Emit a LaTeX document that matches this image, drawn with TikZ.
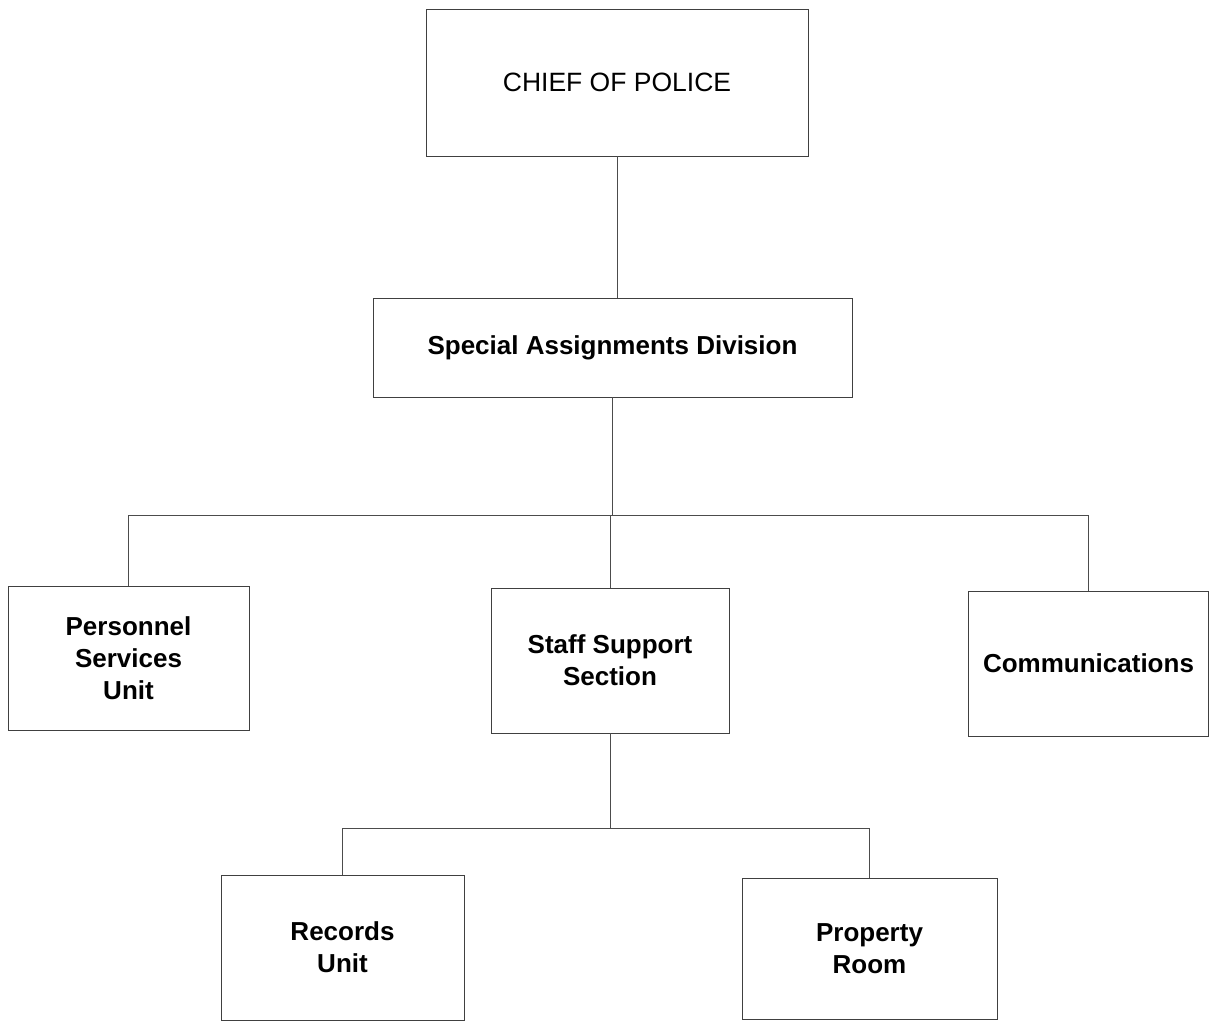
\documentclass[tikz,border=0pt]{standalone}
\usepackage{fontspec}
\setmainfont{Liberation Sans}
\begin{document}
\begin{tikzpicture}[x=1pt,y=-1pt,
  box/.style={draw=black!75, line width=0.9pt, rectangle, align=center, inner sep=0pt,
    font=\fontsize{26}{32}\selectfont\bfseries},
  conn/.style={draw=black!70, line width=0.9pt}]
\useasboundingbox (0,0) rectangle (1210,1021);
\node[box, font=\fontsize{26.5}{32}\selectfont, minimum width=382pt, minimum height=147pt] (chief) at (617,82.5) {CHIEF OF POLICE};
\node[box, minimum width=479pt, minimum height=99pt] (sad) at (612.5,347.5) {Special Assignments Division};
\node[box, minimum width=241pt, minimum height=144pt] (pers) at (128.5,658) {Personnel\\Services\\Unit};
\node[box, minimum width=238pt, minimum height=145pt] (staff) at (610,660.5) {Staff Support\\Section};
\node[box, minimum width=240pt, minimum height=145pt] (comm) at (1088.5,663.5) {Communications};
\node[box, minimum width=243pt, minimum height=145pt] (rec) at (342.5,947.5) {Records\\Unit};
\node[box, minimum width=255pt, minimum height=141pt] (prop) at (869.5,949) {Property\\Room};
\coordinate (bus1) at (0,515);
\coordinate (bus2) at (0,828);
\draw[conn] (chief.south) -- (chief.south |- sad.north);
\draw[conn] (sad.south) -- (sad.south |- bus1);
\draw[conn] (pers.north) -- (pers.north |- bus1) -- (comm.north |- bus1) -- (comm.north);
\draw[conn] (staff.north) -- (staff.north |- bus1);
\draw[conn] (staff.south) -- (staff.south |- bus2);
\draw[conn] (rec.north) -- (rec.north |- bus2) -- (prop.north |- bus2) -- (prop.north);
\end{tikzpicture}
\end{document}
